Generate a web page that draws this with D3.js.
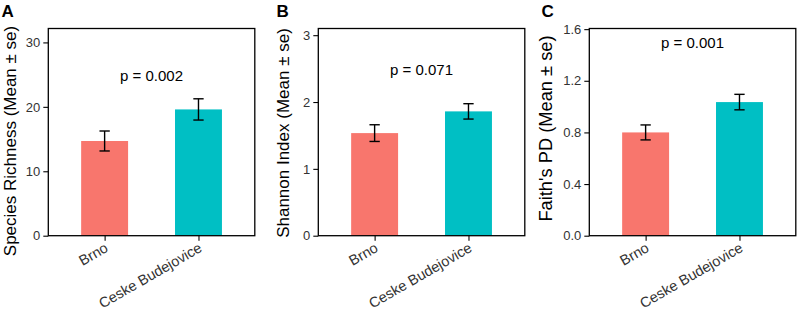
<!DOCTYPE html>
<html>
<head>
<meta charset="utf-8">
<script src="https://cdn.jsdelivr.net/npm/d3@7"></script>
<style>
  body { margin: 0; background: #fff; }
  svg { font-family: "Liberation Sans", Arial, Helvetica, sans-serif; }
</style>
</head>
<body>
<svg id="chart" width="797" height="312"></svg>
<script>
// data
const groups = ["Brno", "Ceske Budejovice"];
const richnessMean = [14.7, 19.6];
const richnessSe = [1.55, 1.65];
const shannonMean = [1.535, 1.86];
const shannonSe = [0.125, 0.115];
const faithMean = [0.8, 1.035];
const faithSe = [0.058, 0.06];
const richnessTicks = [0, 10, 20, 30];
const shannonTicks = [0, 1, 2, 3];
const faithTicks = [0, 0.4, 0.8, 1.2, 1.6];
const pLabels = ["p = 0.002", "p = 0.071", "p = 0.001"];
const yTitles = ["Species Richness (Mean \u00b1 se)", "Shannon Index (Mean \u00b1 se)", "Faith's PD (Mean \u00b1 se)"];
const letters = ["A", "B", "C"];
const colors = ["#F8766D", "#00BFC4"];

// layout per panel
const panels = [
  { mean: richnessMean, se: richnessSe, ticks: richnessTicks, fmt: d3.format("d"), max: 32.16, pY: 24.0,
    left: 48.3, letterX: 1.5, titleX: 15.5, titleY: 141, titleSize: 17 },
  { mean: shannonMean, se: shannonSe, ticks: shannonTicks, fmt: d3.format("d"), max: 3.1, pY: 2.41,
    left: 318.3, letterX: 276.5, titleX: 289, titleY: 133, titleSize: 17 },
  { mean: faithMean, se: faithSe, ticks: faithTicks, fmt: d3.format(".1f"), max: 1.605, pY: 1.455,
    left: 589.3, letterX: 541.5, titleX: 551.5, titleY: 128.5, titleSize: 18.3 }
];

const svg = d3.select("#chart");
const panelTop = 28.5, panelBottom = 235.7, w = 206.5;
const h = panelBottom - panelTop;

panels.forEach(function (p, i) {
  const x = d3.scalePoint().domain(groups).range([0, w]).padding(0.6);
  const y = d3.scaleLinear().domain([0, p.max]).range([h, 0]);
  const bw = x.step() * 0.5;
  const ew = x.step() * 0.11;

  const g = svg.append("g").attr("transform", "translate(" + p.left + "," + panelTop + ")");

  g.selectAll(".bar")
    .data(groups)
    .enter()
    .append("rect")
    .attr("class", "bar")
    .attr("x", d => x(d) - bw / 2)
    .attr("y", (d, j) => y(p.mean[j]))
    .attr("width", bw)
    .attr("height", (d, j) => y(0) - y(p.mean[j]))
    .attr("fill", (d, j) => colors[j]);

  // error bars
  const eb = g.selectAll(".err").data(groups).enter().append("g")
    .attr("class", "err")
    .attr("stroke", "#000").attr("stroke-width", 1.4).attr("fill", "none");
  eb.append("line")
    .attr("x1", d => x(d)).attr("x2", d => x(d))
    .attr("y1", (d, j) => y(p.mean[j] + p.se[j]))
    .attr("y2", (d, j) => y(p.mean[j] - p.se[j]));
  eb.append("line")
    .attr("x1", d => x(d) - ew / 2).attr("x2", d => x(d) + ew / 2)
    .attr("y1", (d, j) => y(p.mean[j] + p.se[j]))
    .attr("y2", (d, j) => y(p.mean[j] + p.se[j]));
  eb.append("line")
    .attr("x1", d => x(d) - ew / 2).attr("x2", d => x(d) + ew / 2)
    .attr("y1", (d, j) => y(p.mean[j] - p.se[j]))
    .attr("y2", (d, j) => y(p.mean[j] - p.se[j]));

  // y axis
  const ya = g.append("g")
    .call(d3.axisLeft(y).tickValues(p.ticks).tickFormat(p.fmt).tickSize(5).tickPadding(3));
  ya.select(".domain").remove();
  ya.selectAll("line").attr("stroke", "#000").attr("stroke-width", 1.1);
  ya.selectAll("text").attr("font-size", "13px").attr("fill", "#333")
    .attr("font-family", "Liberation Sans, Arial, sans-serif");

  // x axis
  const xa = g.append("g")
    .attr("transform", "translate(0," + h + ")")
    .call(d3.axisBottom(x).tickSize(5).tickPadding(0));
  xa.select(".domain").remove();
  xa.selectAll("line").attr("stroke", "#000").attr("stroke-width", 1.1);
  xa.selectAll("text")
    .attr("font-size", "14.5px")
    .attr("fill", "#333")
    .attr("font-family", "Liberation Sans, Arial, sans-serif")
    .attr("text-anchor", "end")
    .attr("y", 0)
    .attr("dy", 0)
    .attr("transform", "translate(4,15) rotate(-30)");

  // border
  g.append("rect")
    .attr("x", 0).attr("y", 0)
    .attr("width", w).attr("height", h)
    .attr("fill", "none").attr("stroke", "#000").attr("stroke-width", 1.3);

  // p value
  g.append("text")
    .attr("x", w / 2)
    .attr("y", y(p.pY))
    .attr("text-anchor", "middle")
    .attr("font-size", "15px")
    .attr("fill", "#000")
    .text(pLabels[i]);

  // y title
  svg.append("text")
    .attr("transform", "translate(" + p.titleX + "," + p.titleY + ") rotate(-90)")
    .attr("text-anchor", "middle")
    .attr("font-size", p.titleSize + "px")
    .attr("fill", "#000")
    .text(yTitles[i]);

  // panel letter
  svg.append("text")
    .attr("x", p.letterX)
    .attr("y", 17)
    .attr("font-size", "17px")
    .attr("font-weight", "bold")
    .attr("fill", "#000")
    .text(letters[i]);
});
</script>
</body>
</html>
